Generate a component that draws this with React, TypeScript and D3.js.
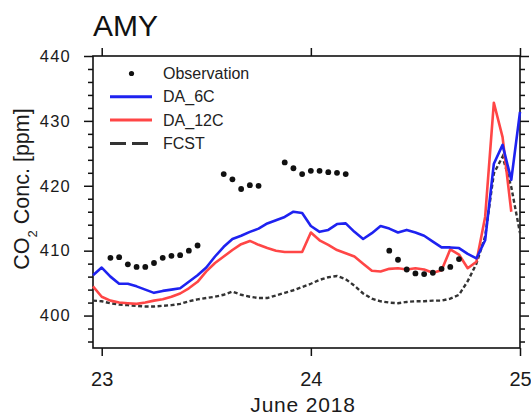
import React, { useRef, useEffect } from 'react';
import * as d3 from 'd3';

// hours counted from 23 June 00:00, model output is hourly from startHour
const startHour = -1;

const obsHours = [1, 2, 3, 4, 5, 6, 7, 8, 9, 10, 11, 14, 15, 16, 17, 18, 21, 22, 23, 24, 25, 26, 27, 28, 33, 34, 35, 36, 37, 38, 39, 40, 41];
const obsValues = [
  408.9, 409.0, 407.9, 407.5, 407.5, 408.1, 408.9, 409.2, 409.3, 410.0, 410.8,
  421.8, 421.0, 419.5, 420.1, 420.0,
  423.6, 422.7, 421.8, 422.3, 422.3, 422.1, 422.0, 421.8,
  410.0, 408.6, 407.1, 406.5, 406.4, 406.6, 407.2, 407.5, 408.7,
];

const da6c = [
  406.2, 407.4, 406.0, 404.9, 404.9, 404.5, 404.0, 403.5, 403.8, 404.0,
  404.2, 405.2, 406.2, 407.4, 409.1, 410.6, 411.8, 412.3, 412.9, 413.4,
  414.2, 414.7, 415.2, 416.0, 415.8, 413.8, 412.9, 413.2, 414.1, 414.2,
  412.9, 411.8, 412.7, 413.8, 413.4, 412.8, 413.2, 412.8, 412.3, 411.4,
  410.5, 410.5, 410.4, 409.5, 408.8, 411.6, 423.4, 426.3, 420.9, 431.4,
];

const da12c = [
  404.5, 402.9, 402.3, 402.0, 401.9, 401.8, 402.0, 402.3, 402.5, 402.9,
  403.4, 404.2, 405.2, 406.8, 408.1, 409.1, 410.1, 411.0, 411.5, 410.9,
  410.4, 410.0, 409.8, 409.8, 409.8, 412.8, 411.6, 410.9, 410.1, 409.6,
  409.1, 408.0, 406.9, 406.8, 407.2, 407.3, 407.1, 407.3, 407.1, 406.6,
  407.0, 410.2, 409.4, 407.3, 408.3, 415.2, 432.8, 427.5, 416.0,
];

const fcst = [
  402.3, 402.2, 401.9, 401.7, 401.6, 401.5, 401.4, 401.4, 401.5, 401.6,
  401.8, 402.2, 402.5, 402.7, 402.9, 403.2, 403.7, 403.2, 402.9, 402.7,
  402.7, 403.1, 403.5, 403.9, 404.4, 404.9, 405.5, 405.9, 406.1, 405.6,
  404.6, 403.4, 402.6, 402.2, 402.0, 401.9, 402.1, 402.2, 402.2, 402.3,
  402.3, 402.6, 403.2, 405.3, 408.0, 412.2, 421.9, 424.5, 419.8, 412.7,
];

const yTicks = [400, 410, 420, 430, 440];
const dayTicks = [0, 24, 48];
const dayLabels = ['23', '24', '25'];
const legendLabels = ['Observation', 'DA_6C', 'DA_12C', 'FCST'];

const FONT = '"Liberation Sans", Arial, Helvetica, sans-serif';
const BLUE = '#1e22f0';
const RED = '#ff4646';
const GREY = '#333333';

const Chart = () => {
  const svgRef = useRef(null);

  useEffect(() => {
    if (!svgRef.current) return;
    const svg = d3.select(svgRef.current);
    svg.selectAll('*').remove();

    const left = 93, right = 520, top = 56, bottom = 348;

    const x = d3.scaleLinear().domain([startHour, 48]).range([left, right]);
    const y = d3.scaleLinear().domain([395, 440]).range([bottom, top]);

    const minor = d3.range(396, 441, 2).filter(v => !yTicks.includes(v));

    // axes, ticks outward on all four sides
    const styleAxis = (g, withText, size = 17, spacing = 0) => {
      g.select('.domain').remove();
      g.selectAll('line').attr('stroke', '#111').attr('stroke-width', 1.5);
      g.selectAll('text')
        .attr('fill', '#1a1a1a')
        .style('font-family', FONT)
        .style('font-size', `${size}px`)
        .style('letter-spacing', `${spacing}px`);
      if (!withText) g.selectAll('text').remove();
    };

    svg.append('g')
      .attr('transform', `translate(${left},0)`)
      .call(d3.axisLeft(y).tickValues(yTicks).tickSize(9).tickPadding(13).tickFormat(d3.format('d')))
      .call(g => styleAxis(g, true, 16.5, 1.2));
    svg.append('g')
      .attr('transform', `translate(${left},0)`)
      .call(d3.axisLeft(y).tickValues(minor).tickSize(5))
      .call(g => styleAxis(g, false));
    svg.append('g')
      .attr('transform', `translate(${right},0)`)
      .call(d3.axisRight(y).tickValues(yTicks).tickSize(9))
      .call(g => styleAxis(g, false));
    svg.append('g')
      .attr('transform', `translate(${right},0)`)
      .call(d3.axisRight(y).tickValues(minor).tickSize(5))
      .call(g => styleAxis(g, false));
    svg.append('g')
      .attr('transform', `translate(0,${bottom})`)
      .call(d3.axisBottom(x).tickValues(dayTicks).tickSize(8).tickPadding(16)
        .tickFormat((d, i) => dayLabels[i]))
      .call(g => styleAxis(g, true, 20, 0));
    svg.append('g')
      .attr('transform', `translate(0,${top})`)
      .call(d3.axisTop(x).tickValues(dayTicks).tickSize(8))
      .call(g => styleAxis(g, false));

    svg.append('rect')
      .attr('x', left).attr('y', top)
      .attr('width', right - left).attr('height', bottom - top)
      .attr('fill', 'none').attr('stroke', '#111').attr('stroke-width', 1.6);

    // series
    const line = d3.line()
      .x((d, i) => x(startHour + i))
      .y(d => y(d));

    svg.append('path').datum(fcst)
      .attr('d', line).attr('fill', 'none')
      .attr('stroke', GREY).attr('stroke-width', 2.4)
      .attr('stroke-dasharray', '4 2.5');
    svg.append('path').datum(da12c)
      .attr('d', line).attr('fill', 'none')
      .attr('stroke', RED).attr('stroke-width', 2.6)
      .attr('stroke-linejoin', 'round');
    svg.append('path').datum(da6c)
      .attr('d', line).attr('fill', 'none')
      .attr('stroke', BLUE).attr('stroke-width', 2.6)
      .attr('stroke-linejoin', 'round');

    svg.append('g').selectAll('circle')
      .data(obsValues)
      .enter()
      .append('circle')
      .attr('cx', (d, i) => x(obsHours[i]))
      .attr('cy', d => y(d))
      .attr('r', 2.9)
      .attr('fill', '#111');

    // legend
    const lg = svg.append('g');
    const rowY = i => 73.5 + i * 23.3;
    legendLabels.forEach((label, i) => {
      if (i === 0) {
        lg.append('circle').attr('cx', 131.5).attr('cy', rowY(i)).attr('r', 2.6).attr('fill', '#111');
      } else {
        lg.append('line')
          .attr('x1', 110).attr('x2', 152)
          .attr('y1', rowY(i)).attr('y2', rowY(i))
          .attr('stroke', [null, BLUE, RED, GREY][i])
          .attr('stroke-width', 3)
          .attr('stroke-dasharray', i === 3 ? '16 6' : null);
      }
      lg.append('text')
        .attr('x', 163).attr('y', rowY(i) + 5.6)
        .attr('fill', '#222')
        .style('font-family', FONT).style('font-size', '16px')
        .text(label);
    });

    // titles
    svg.append('text')
      .attr('x', 93).attr('y', 35.5)
      .attr('fill', '#111')
      .style('font-family', FONT).style('font-size', '30px')
      .text('AMY');

    svg.append('text')
      .attr('x', 303).attr('y', 412)
      .attr('text-anchor', 'middle')
      .attr('fill', '#1a1a1a')
      .style('font-family', FONT).style('font-size', '21px')
      .style('letter-spacing', '0.8px')
      .text('June 2018');

    const yl = svg.append('text')
      .attr('transform', 'translate(28.5,189) rotate(-90)')
      .attr('text-anchor', 'middle')
      .attr('fill', '#1a1a1a')
      .style('font-family', FONT).style('font-size', '21.5px');
    yl.append('tspan').text('CO');
    yl.append('tspan').attr('baseline-shift', 'sub').style('font-size', '13px').text('2');
    yl.append('tspan').text(' Conc. [ppm]');
  }, []);

  return (
    <svg
      ref={svgRef}
      width={531}
      height={418}
      style={{ position: 'absolute', left: 0, top: 0, background: '#fff' }}
    />
  );
};

export default function App() {
  return <Chart />;
}
